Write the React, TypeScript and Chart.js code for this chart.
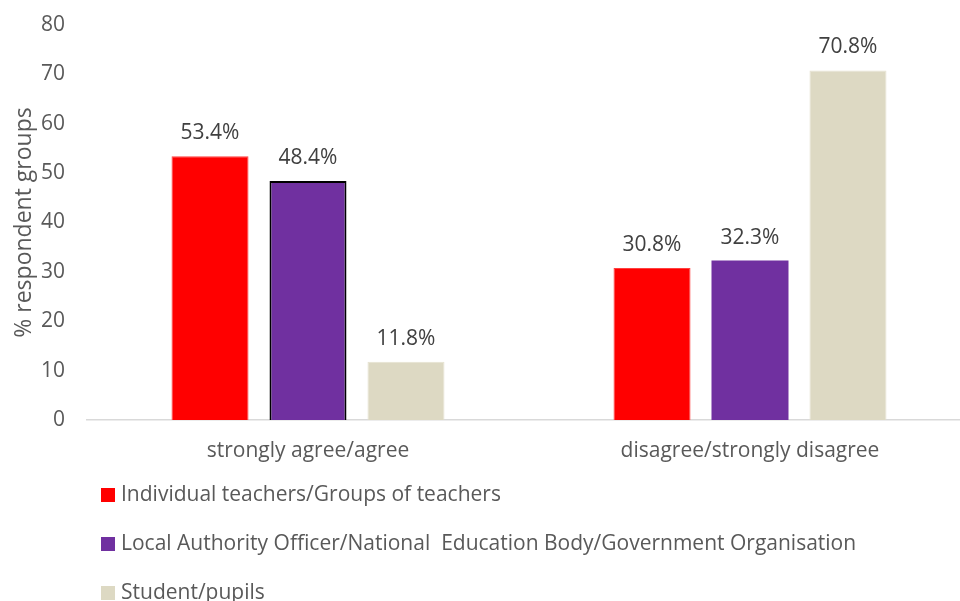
import React, { useEffect, useRef } from "react";
import { Chart, registerables } from "chart.js";

Chart.register(...registerables);

const categories = ["strongly agree/agree", "disagree/strongly disagree"];
const seriesNames = [
  "Individual teachers/Groups of teachers",
  "Local Authority Officer/National  Education Body/Government Organisation",
  "Student/pupils",
];
const teachers = [53.4, 30.8];
const authority = [48.4, 32.3];
const students = [11.8, 70.8];
const yTicks = [0, 10, 20, 30, 40, 50, 60, 70, 80];

const FONT = "'Open Sans', 'Liberation Sans', sans-serif";
const TEXT = "#595959";

const dataLabelPlugin = {
  id: "dataLabels",
  afterDatasetsDraw(chart: any) {
    const ctx = chart.ctx;
    ctx.save();
    ctx.font = `21px ${FONT}`;
    ctx.fillStyle = "#404040";
    ctx.textAlign = "center";
    ctx.textBaseline = "middle";
    chart.data.datasets.forEach((ds: any, i: number) => {
      const meta = chart.getDatasetMeta(i);
      meta.data.forEach((bar: any, j: number) => {
        ctx.fillText(ds.data[j].toFixed(1) + "%", bar.x, bar.y - 23);
      });
    });
    ctx.restore();
  },
};

const legendPlugin = {
  id: "customLegend",
  afterDraw(chart: any) {
    const ctx = chart.ctx;
    ctx.save();
    ctx.font = `21px ${FONT}`;
    ctx.textAlign = "left";
    ctx.textBaseline = "middle";
    const base = chart.chartArea.bottom + 75;
    chart.data.datasets.forEach((ds: any, i: number) => {
      const y = base + i * 49;
      ctx.fillStyle = ds.legendColor;
      ctx.fillRect(101, y - 7, 14, 14);
      ctx.fillStyle = TEXT;
      ctx.fillText(ds.label, 121, y);
    });
    ctx.restore();
  },
};

export default function App() {
  const ref = useRef<HTMLCanvasElement>(null);
  useEffect(() => {
    if (!ref.current) return;
    const chart = new Chart(ref.current, {
      type: "bar",
      data: {
        labels: categories,
        datasets: [
          {
            label: seriesNames[0],
            data: teachers,
            backgroundColor: "#FF0000",
            borderColor: "#FF4040",
            borderWidth: 1,
            legendColor: "#FF0000",
          } as any,
          {
            label: seriesNames[1],
            data: authority,
            backgroundColor: "#7030A0",
            borderColor: ["#000000", "#7030A0"],
            borderWidth: [2, 0],
            legendColor: "#7030A0",
          } as any,
          {
            label: seriesNames[2],
            data: students,
            backgroundColor: "#DDD9C3",
            borderColor: "#E5E2D0",
            borderWidth: 1,
            legendColor: "#DDD9C3",
          } as any,
        ],
      },
      options: {
        animation: false,
        responsive: false,
        maintainAspectRatio: false,
        layout: { padding: { left: 7, top: 25, right: 0, bottom: 131 } },
        datasets: {
          bar: { categoryPercentage: 0.665, barPercentage: 0.786 },
        },
        plugins: {
          legend: { display: false },
          tooltip: { enabled: false },
        },
        scales: {
          x: {
            grid: { display: false, drawTicks: false },
            border: { display: true, color: "#D9D9D9", width: 1.5 },
            ticks: { color: TEXT, font: { family: FONT, size: 21 }, padding: 18 },
            afterFit(scale: any) {
              scale.height = 50;
            },
          },
          y: {
            min: 0,
            max: 80,
            afterBuildTicks(scale: any) {
              scale.ticks = yTicks.map((v) => ({ value: v }));
            },
            grid: { display: false, drawTicks: false },
            border: { display: false },
            ticks: { color: TEXT, font: { family: FONT, size: 21 }, padding: 22 },
            title: {
              display: true,
              text: "% respondent groups",
              color: TEXT,
              font: { family: FONT, size: 23 },
              padding: { top: 4, bottom: 0 },
            },
            afterFit(scale: any) {
              scale.width = 80;
              scale.paddingTop = 0;
              scale.paddingBottom = 0;
            },
          },
        },
      },
      plugins: [dataLabelPlugin, legendPlugin],
    });
    return () => chart.destroy();
  }, []);
  return (
    <div
      style={{
        position: "fixed",
        left: 0,
        top: 0,
        width: 960,
        height: 601,
        overflow: "hidden",
        background: "#fff",
      }}
    >
      <canvas ref={ref} width={971} height={601} style={{ display: "block" }} />
    </div>
  );
}
